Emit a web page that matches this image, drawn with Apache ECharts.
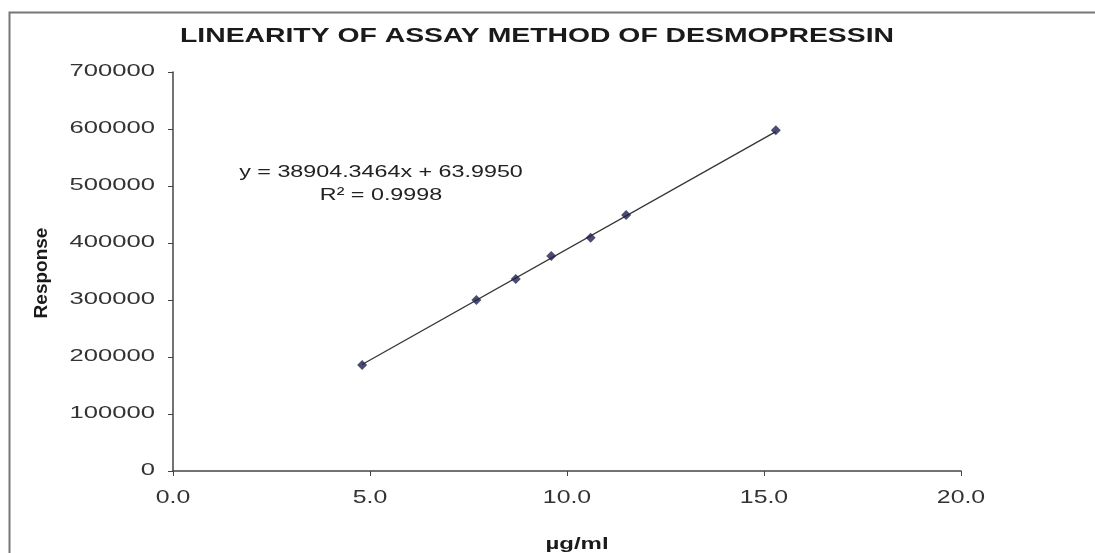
<!DOCTYPE html>
<html>
<head>
<meta charset="utf-8">
<script src="https://cdn.jsdelivr.net/npm/echarts@6/dist/echarts.min.js"></script>
<style>
  html, body { margin: 0; padding: 0; background: #fff; }
  #main { width: 1095px; height: 553px; }
</style>
</head>
<body>
<div id="main"></div>
<script>
// concentration (µg/ml) and detector response
const conc = [4.8, 7.7, 8.7, 9.6, 10.6, 11.5, 15.3];
const response = [186000, 300000, 337000, 377000, 409000, 449000, 598000];

// trendline as printed on the chart
const slope = 38904.3464;
const intercept = 63.9950;
const rSquared = '0.9998';

const xTicks = [0, 5, 10, 15, 20];
const yTicks = [0, 100000, 200000, 300000, 400000, 500000, 600000, 700000];

const points = conc.map((x, i) => [x, response[i]]);
const xMin = Math.min(...conc), xMax = Math.max(...conc);
const trend = [[xMin, slope * xMin + intercept], [xMax, slope * xMax + intercept]];

// the source picture is stretched sideways, so text gets a scaleX
const font = 'Liberation Sans, Arial, sans-serif';
const stretch = 1.38;

const chart = echarts.init(document.getElementById('main'));

// tick labels drawn through the axes' own scales so they can be stretched
function tickLabel(axis) {
  return function (params, api) {
    const p = api.coord([api.value(0), api.value(1)]);
    const v = axis === 'x' ? api.value(0) : api.value(1);
    return {
      type: 'text',
      x: axis === 'x' ? p[0] : p[0] - 18,
      y: axis === 'x' ? p[1] + 27 : p[1],
      scaleX: axis === 'x' ? stretch : 1.6,
      style: {
        text: axis === 'x' ? v.toFixed(1) : String(v),
        font: (axis === 'x' ? '18px ' : '16px ') + font,
        fill: '#333',
        align: axis === 'x' ? 'center' : 'right',
        verticalAlign: 'middle'
      }
    };
  };
}

const option = {
  animation: false,
  backgroundColor: '#fff',
  textStyle: { fontFamily: font },
  grid: { left: 173, right: 134, top: 72, bottom: 82 },
  xAxis: {
    type: 'value', min: 0, max: 20, interval: 5,
    axisLine: { show: true, onZero: false, lineStyle: { color: '#444', width: 1.5 } },
    axisTick: { show: true, length: 5, lineStyle: { color: '#444' } },
    axisLabel: { show: false },
    splitLine: { show: false }
  },
  yAxis: {
    type: 'value', min: 0, max: 700000, interval: 100000,
    axisLine: { show: true, lineStyle: { color: '#444', width: 1.5 } },
    axisTick: { show: true, length: 5, lineStyle: { color: '#444' } },
    axisLabel: { show: false },
    splitLine: { show: false }
  },
  graphic: [
    {
      type: 'rect', silent: true,
      shape: { x: 9.5, y: 12.5, width: 1100, height: 600 },
      style: { fill: 'none', stroke: '#777', lineWidth: 2 }
    },
    {
      type: 'text', x: 537, y: 36, scaleX: 1.35,
      style: { text: 'LINEARITY OF ASSAY METHOD OF DESMOPRESSIN',
        font: 'bold 21px ' + font, fill: '#1a1a1a', align: 'center', verticalAlign: 'middle' }
    },
    {
      type: 'text', x: 381, y: 172, scaleX: 1.37,
      style: { text: 'y = ' + slope.toFixed(4) + 'x + ' + intercept.toFixed(4),
        font: '17px ' + font, fill: '#222', align: 'center', verticalAlign: 'middle' }
    },
    {
      type: 'text', x: 381, y: 195, scaleX: 1.37,
      style: { text: 'R² = ' + rSquared, font: '17px ' + font, fill: '#222',
        align: 'center', verticalAlign: 'middle' }
    },
    {
      type: 'text', x: 577, y: 545, scaleX: 1.5,
      style: { text: 'µg/ml', font: 'bold 16px ' + font, fill: '#1a1a1a',
        align: 'center', verticalAlign: 'middle' }
    },
    {
      type: 'text', x: 42, y: 273, rotation: Math.PI / 2,
      style: { text: 'Response', font: 'bold 19px ' + font, fill: '#1a1a1a',
        align: 'center', verticalAlign: 'middle' }
    }
  ],
  series: [
    {
      type: 'line', data: trend, symbol: 'none', silent: true,
      lineStyle: { color: '#333', width: 1.3 }, z: 2
    },
    {
      type: 'scatter', data: points, symbol: 'diamond', symbolSize: 10,
      itemStyle: { color: '#1f1f50' }, z: 3
    },
    {
      type: 'custom', silent: true, clip: false,
      data: xTicks.map(v => [v, 0]), renderItem: tickLabel('x')
    },
    {
      type: 'custom', silent: true, clip: false,
      data: yTicks.map(v => [0, v]), renderItem: tickLabel('y')
    }
  ]
};
chart.setOption(option);
</script>
</body>
</html>
